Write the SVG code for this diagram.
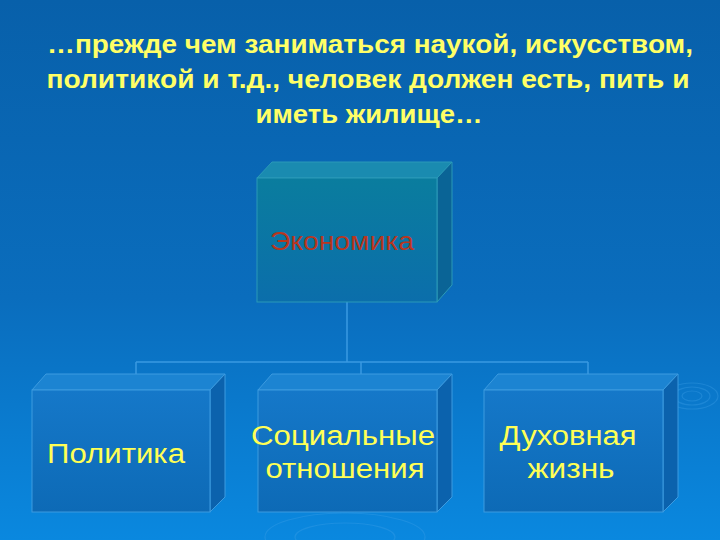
<svg xmlns="http://www.w3.org/2000/svg" width="720" height="540" viewBox="0 0 720 540">
  <defs>
    <linearGradient id="bg" x1="0" y1="0" x2="0" y2="1">
      <stop offset="0" stop-color="#0860aa"/>
      <stop offset="0.55" stop-color="#0a6dbd"/>
      <stop offset="1" stop-color="#0a88df"/>
    </linearGradient>
    <linearGradient id="ecoFront" x1="0" y1="0" x2="0" y2="1">
      <stop offset="0" stop-color="#0a7d9e"/>
      <stop offset="1" stop-color="#0b6eab"/>
    </linearGradient>
    <linearGradient id="boxFront" x1="0" y1="0" x2="0" y2="1">
      <stop offset="0" stop-color="#1578c9"/>
      <stop offset="1" stop-color="#0d6ab6"/>
    </linearGradient>
    <style>
      .title { font-family: "Liberation Sans", Arial, sans-serif; font-weight: bold; font-size: 25px; fill: #ffff66; text-anchor: middle; }
      .lbl { font-family: "Liberation Sans", Arial, sans-serif; font-size: 27px; fill: #ffff55; text-anchor: middle; }
      .eco { font-family: "Liberation Sans", Arial, sans-serif; font-size: 25px; fill: #b8361e; text-anchor: middle; }
      .conn { stroke: #3a9ae2; stroke-width: 1.5; fill: none; }
      .edge { stroke: #3c9be0; stroke-width: 1; }
      .ecoEdge { stroke: #2a9ab8; stroke-width: 1; }
      .ripple { fill: none; stroke: #3fa0e8; stroke-width: 1.2; opacity: 0.35; }
    </style>
  </defs>

  <rect x="0" y="0" width="720" height="540" fill="url(#bg)"/>

  <g id="ripples">
    <ellipse class="ripple" cx="692" cy="396" rx="10" ry="5"/>
    <ellipse class="ripple" cx="692" cy="396" rx="18" ry="9"/>
    <ellipse class="ripple" cx="692" cy="396" rx="26" ry="13"/>
    <ellipse class="ripple" cx="345" cy="537" rx="50" ry="14" opacity="0.2"/>
    <ellipse class="ripple" cx="345" cy="537" rx="80" ry="24" opacity="0.2"/>
  </g>

  <g id="title">
    <text class="title" x="370" y="53" textLength="646" lengthAdjust="spacingAndGlyphs">…прежде чем заниматься наукой, искусством,</text>
    <text class="title" x="368" y="88" textLength="643" lengthAdjust="spacingAndGlyphs">политикой и т.д., человек должен есть, пить и</text>
    <text class="title" x="369" y="123" textLength="227" lengthAdjust="spacingAndGlyphs">иметь жилище…</text>
  </g>

  <g id="connectors">
    <line class="conn" x1="347" y1="302" x2="347" y2="362"/>
    <line class="conn" x1="136" y1="362" x2="588" y2="362"/>
    <line class="conn" x1="136" y1="362" x2="136" y2="374"/>
    <line class="conn" x1="361" y1="362" x2="361" y2="374"/>
    <line class="conn" x1="588" y1="362" x2="588" y2="374"/>
  </g>

  <g id="economy">
    <polygon class="ecoEdge" points="257,178 272,162 452,162 437,178" fill="#1a8bb0"/>
    <polygon class="ecoEdge" points="437,178 452,162 452,285 437,302" fill="#0a6496"/>
    <rect class="ecoEdge" x="257" y="178" width="180" height="124" fill="url(#ecoFront)"/>
    <text class="eco" x="342" y="250" textLength="144" lengthAdjust="spacingAndGlyphs">Экономика</text>
  </g>

  <g id="politics">
    <polygon class="edge" points="32,390 46,374 225,374 210,390" fill="#1c84d2"/>
    <polygon class="edge" points="210,390 225,374 225,497 210,512" fill="#0b62ad"/>
    <rect class="edge" x="32" y="390" width="178" height="122" fill="url(#boxFront)"/>
    <text class="lbl" x="116" y="463" textLength="138" lengthAdjust="spacingAndGlyphs">Политика</text>
  </g>

  <g id="social">
    <polygon class="edge" points="258,390 272,374 452,374 437,390" fill="#1c84d2"/>
    <polygon class="edge" points="437,390 452,374 452,497 437,512" fill="#0b62ad"/>
    <rect class="edge" x="258" y="390" width="179" height="122" fill="url(#boxFront)"/>
    <text class="lbl" x="343" y="445" textLength="184" lengthAdjust="spacingAndGlyphs">Социальные</text>
    <text class="lbl" x="345" y="478" textLength="159" lengthAdjust="spacingAndGlyphs">отношения</text>
  </g>

  <g id="spiritual">
    <polygon class="edge" points="484,390 498,374 678,374 663,390" fill="#1c84d2"/>
    <polygon class="edge" points="663,390 678,374 678,497 663,512" fill="#0b62ad"/>
    <rect class="edge" x="484" y="390" width="179" height="122" fill="url(#boxFront)"/>
    <text class="lbl" x="568" y="445" textLength="137" lengthAdjust="spacingAndGlyphs">Духовная</text>
    <text class="lbl" x="571" y="478" textLength="87" lengthAdjust="spacingAndGlyphs">жизнь</text>
  </g>
</svg>
